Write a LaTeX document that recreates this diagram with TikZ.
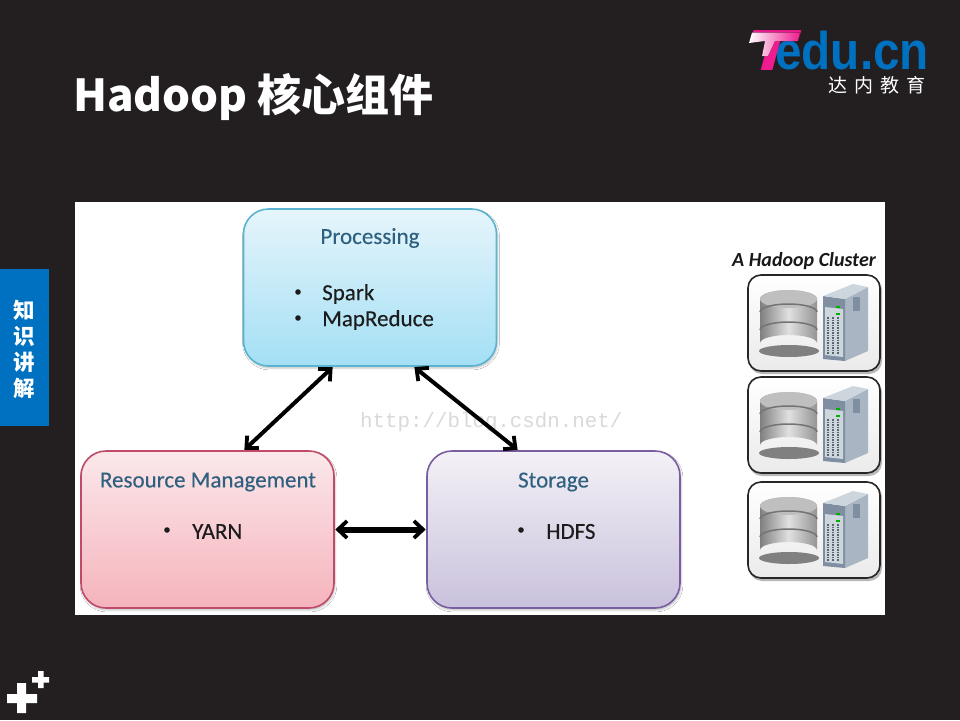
\documentclass[tikz,border=0pt]{standalone}
\usepackage{fontspec}
\setmainfont{Carlito}
\newfontfamily\cjkf{Noto Sans CJK SC}
\newfontfamily\logof{Liberation Sans}
\newfontfamily\wmf{Liberation Mono}
\newfontfamily\semif[FakeBold=0.25]{Carlito}
\usetikzlibrary{arrows.meta,calc,shadows.blur}
\definecolor{bgdark}{HTML}{231F20}
\definecolor{sidebar}{HTML}{0070C0}
\definecolor{headtxt}{HTML}{2F6080}
\definecolor{bodytxt}{HTML}{1C1C1C}
\definecolor{logopink}{HTML}{EE1C8E}
\definecolor{ptop}{HTML}{E6F5FB}\definecolor{pbot}{HTML}{A3DFF5}\definecolor{pedge}{HTML}{5AB4CF}
\definecolor{rtop}{HTML}{FBE8EA}\definecolor{rbot}{HTML}{F5B3BC}\definecolor{redge}{HTML}{C04A6A}
\definecolor{stop}{HTML}{F3F1F6}\definecolor{sbot}{HTML}{C9C1DC}\definecolor{sedge}{HTML}{7A5DA0}
\definecolor{srvfront}{HTML}{7F8FA1}\definecolor{srvside}{HTML}{A9B5C2}\definecolor{srvtop}{HTML}{CDD5DD}
\tikzset{
  x=1pt,y=-1pt,
  flowbox/.style={rounded corners=25pt,minimum width=253pt,minimum height=157pt,line width=1.6pt,inner sep=0pt,
    blur shadow={shadow xshift=1pt,shadow yshift=-2pt,shadow blur steps=4,shadow opacity=25}},
  headlabel/.style={font=\semif\fontsize{23}{23}\selectfont,text=headtxt,inner sep=0pt},
  itemlabel/.style={font=\semif\fontsize{23}{23}\selectfont,text=bodytxt,inner sep=0pt,anchor=west},
  dualarrow/.style={line width=4pt,black,{Straight Barb[length=9pt,width=17pt,line width=3.8pt]}-{Straight Barb[length=9pt,width=17pt,line width=3.8pt]},shorten <=0.5pt,shorten >=0.5pt},
  sidelabel/.style={font=\cjkf\bfseries\fontsize{21.5}{21.5}\selectfont,text=white,inner sep=0pt},
  unitbox/.style={rounded corners=13pt,draw=black!85,line width=1.6pt},
  clusterunit/.pic={
    \fill[black!28,rounded corners=13pt] (1,2) rectangle (134,99);
    \draw[unitbox,top color=white,bottom color=black!8] (0,0) rectangle (132,96);
    % database
    \fill[black!50] (41,76) ellipse (30 and 6);
    \path[left color=black!50,right color=black!42,middle color=black!12]
       (12,24) -- (12,68) arc[start angle=180,end angle=360,x radius=28.5,y radius=8] -- (69,24) arc[start angle=360,end angle=180,x radius=28.5,y radius=9] -- cycle;
    \fill[black!25] (40.5,24) ellipse (28.5 and 9);
    \draw[black!55,line width=1.5pt] (12,37) arc[start angle=180,end angle=360,x radius=28.5,y radius=8];
    \draw[black!55,line width=1.5pt] (12,55) arc[start angle=180,end angle=360,x radius=28.5,y radius=8];
    % server
    \fill[srvside] (97,24) -- (120,12) -- (120,76) -- (97,86) -- cycle;
    \fill[srvfront] (75,21) -- (97,24) -- (97,86) -- (75,84) -- cycle;
    \fill[srvtop] (75,21) -- (105,9) -- (120,12) -- (97,24) -- cycle;
    \fill[srvtop] (77,32) -- (95,34) -- (95,82) -- (77,80) -- cycle;
    \foreach \sx in {80,85,90}{\draw[srvfront!70!black,line width=2pt,dash pattern=on 1.5pt off 1pt] (\sx,42) -- (\sx,79);}
    \fill[green!70!black] (88,31) rectangle (92,33);
    \fill[green!70!black] (88,38) rectangle (92,40);
    \fill[srvfront] (105,22) rectangle (112,36);
  }
}
\begin{document}
\begin{tikzpicture}
\useasboundingbox (0,0) rectangle (960,720);
\fill[bgdark] (0,0) rectangle (960,720);
\fill[white] (75,202) rectangle (885,615);
\fill[sidebar] (0,269) rectangle (49,426);
% title
\node[anchor=west,inner sep=0pt,text=white,font=\cjkf\bfseries\fontsize{44}{44}\selectfont] (title) at (73,97) {Hadoop 核心组件};
% logo
\node[anchor=west,inner sep=0pt,font=\logof\bfseries\fontsize{53}{53}\selectfont,text=sidebar,xscale=0.9,transform shape] (logoE) at (775,51) {edu.cn};
\node[anchor=west,inner sep=0pt,font=\logof\bfseries\itshape\fontsize{58}{58}\selectfont,text=logopink,xscale=1.4,transform shape] (logoT) at (746,51) {T};
\fill[left color=white,right color=logopink] (752,32.5) -- (800,32.5) -- (798,41) -- (775,41) -- (768,56) -- (762,56) -- (765,41) -- (749,43) -- cycle;
\node[anchor=east,inner sep=0pt,font=\cjkf\fontsize{19}{19}\selectfont,text=white] (logoC) at (926,85) {达\hspace{7pt}内\hspace{7pt}教\hspace{7pt}育};
% side labels
\node[sidelabel] (s1) at (24,310) {知};
\node[sidelabel] (s2) at (24,336) {识};
\node[sidelabel] (s3) at (24,362) {讲};
\node[sidelabel] (s4) at (24,388) {解};
% plus marks
\fill[white] (7,694) rectangle (37,703) (17,683) rectangle (26,713);
\fill[white] (32,677) rectangle (49,682.5) (38,671) rectangle (43.5,688);
% boxes
\node[flowbox,draw=pedge,top color=ptop,bottom color=pbot] (proc) at (370,287.5) {};
\node[flowbox,draw=redge,top color=rtop,bottom color=rbot] (res) at (207.5,529.5) {};
\node[flowbox,draw=sedge,top color=stop,bottom color=sbot] (stor) at (553.5,529.5) {};
% watermark
\node[anchor=west,inner sep=0pt,font=\wmf\fontsize{20.8}{21}\selectfont,text=black!15] (wm) at (360,422) {http://blog.csdn.net/};
% connectors
\coordinate (pl) at ($(proc.south)+(-37,0)$);
\coordinate (pr) at ($(proc.south)+(44,0)$);
\coordinate (rt) at ($(res.north)+(36.5,0)$);
\coordinate (st) at ($(stor.north)+(-35.5,0)$);
\draw[dualarrow] (pl) -- (rt);
\draw[dualarrow] (pr) -- (st);
\draw[dualarrow,line width=6pt] (res.east) -- (stor.west);
% labels
\node[headlabel] (ph) at (370,238) {Processing};
\node[itemlabel] (pi1) at (322,294) {Spark};
\node[itemlabel] (pi2) at (322,320) {MapReduce};
\fill[bodytxt] (298,292) circle (2.8) (298,318) circle (2.8);
\node[headlabel] (rh) at (208,482) {Resource Management};
\node[itemlabel] (ri) at (192,531.5) {YARN};
\fill[bodytxt] (167,530) circle (2.8);
\node[headlabel] (sh) at (553.5,482) {Storage};
\node[itemlabel] (si) at (546,531.5) {HDFS};
\fill[bodytxt] (521,530) circle (2.8);
% cluster
\node[anchor=west,inner sep=0pt,font=\bfseries\itshape\fontsize{20}{20}\selectfont,text=black!90] (cl) at (732,261) {A Hadoop Cluster};
\pic at (748,275) {clusterunit};
\pic at (748,377) {clusterunit};
\pic at (748,482) {clusterunit};
\end{tikzpicture}
\end{document}
